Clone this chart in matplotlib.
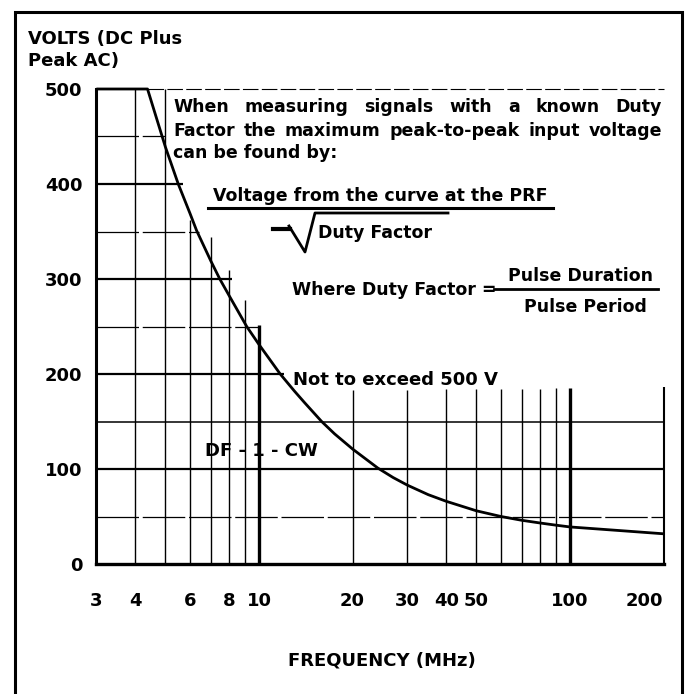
import numpy as np
import matplotlib
matplotlib.use("Agg")
import matplotlib.pyplot as plt
from matplotlib.lines import Line2D
from matplotlib.patches import Rectangle

plt.rcParams['font.family'] = ['DejaVu Sans']
plt.rcParams['font.weight'] = 'bold'

# ── Data ──────────────────────────────────────────────────────────────────────
freq_mhz = [3, 4.38, 5, 5.5, 6, 6.3, 7, 7.48, 8, 9.13, 10, 11.7, 13, 14, 15.9, 17.5, 20, 24.1, 27,
            30, 35, 40, 50, 60, 70, 80, 90, 100, 150, 200]
volts    = [500, 500, 439, 400, 369, 351, 319, 300, 283, 250, 231, 200, 182, 170, 150, 137, 121, 101, 91,
            83, 73, 66, 56, 50, 46, 43.2, 40.9, 39, 34.8, 31.8]

x_ticks = [3, 4, 6, 8, 10, 20, 30, 40, 50, 100, 200]
y_ticks = [0, 100, 200, 300, 400, 500]

# horizontal grid: level and how far right it runs (MHz)
h_levels = [50, 100, 150, 200, 250, 300, 350, 400, 450]
h_ends   = [200, 200, 200, 12, 10, 8.2, 6.4, 5.7, 5.0]

# vertical grid: frequency and how high it runs (V)
v_freqs = [4, 5, 6, 7, 8, 9, 10, 20, 30, 40, 50, 60, 70, 80, 90, 100, 200]
v_tops  = [500, 500, 362, 344, 309, 278, 252, 183, 183, 184, 184, 184, 184, 184, 185, 185, 186]

W, H = 691, 694
def fx(px): return px / W
def fy(py): return 1 - py / H

fig = plt.figure(figsize=(W / 100, H / 100), dpi=100)
ax = fig.add_axes([fx(96.4), fy(564), (663.6 - 96.4) / W, (564 - 89) / H])
ax.set_xscale('log')
ax.set_xlim(3, 200)
ax.set_ylim(0, 500)

# grid
for lvl, end in zip(h_levels, h_ends):
    if lvl % 100 == 0:
        ax.hlines(lvl, 3, end, color='black', lw=1.6, clip_on=False)
    elif lvl == 150:
        ax.hlines(lvl, 3, end, color='black', lw=1.1, clip_on=False)
    else:
        ax.hlines(lvl, 3, end, color='black', lw=0.9, linestyles=(0, (34, 3)), clip_on=False)
ax.hlines(500, freq_mhz[1], 200, color='black', lw=0.8, linestyles=(0, (14, 3)), clip_on=False)
for f, top in zip(v_freqs, v_tops):
    lw = 2.4 if f in (10, 100) else (1.5 if f == 200 else 1.0)
    ax.vlines(f, 0, top, color='black', lw=lw, clip_on=False)

# curve
ax.plot(freq_mhz, volts, color='black', lw=2.0, clip_on=False, solid_capstyle='butt')

for s in ['top', 'right']:
    ax.spines[s].set_visible(False)
ax.spines['left'].set_linewidth(2.2)
ax.spines['bottom'].set_linewidth(2.4)

ax.set_xticks(x_ticks)
ax.set_xticklabels([str(t) for t in x_ticks])
ax.xaxis.set_minor_locator(matplotlib.ticker.NullLocator())
ax.set_yticks(y_ticks)
ax.tick_params(axis='both', length=0, labelsize=13)
ax.tick_params(axis='x', pad=20)
ax.tick_params(axis='y', pad=10)
for lab in ax.get_xticklabels() + ax.get_yticklabels():
    lab.set_fontweight('bold')
ax.get_xticklabels()[-1].set_ha('right')

# axis titles
fig.text(fx(28), fy(39), 'VOLTS (DC Plus', fontsize=13, va='center', ha='left')
fig.text(fx(28), fy(61), 'Peak AC)', fontsize=13, va='center', ha='left')
fig.text(fx(382), fy(661), 'FREQUENCY (MHz)', fontsize=13, va='center', ha='center')

# justified note text
renderer = fig.canvas.get_renderer()
def justified(line, x0, x1, y, size=12.5):
    words = line.split()
    arts = [fig.text(0, fy(y), w, fontsize=size, va='center', ha='left') for w in words]
    widths = [a.get_window_extent(renderer).width for a in arts]
    gap = (x1 - x0 - sum(widths)) / max(len(words) - 1, 1)
    x = x0
    for a, w in zip(arts, widths):
        a.set_x(fx(x))
        x += w + gap

justified('When measuring signals with a known Duty', 173, 662, 107.5)
justified('Factor the maximum peak-to-peak input voltage', 173, 662, 131)
fig.text(fx(173), fy(153), 'can be found by:', fontsize=12.5, va='center', ha='left')

fig.text(fx(213), fy(196), 'Voltage from the curve at the PRF', fontsize=12.5, va='center', ha='left')
fig.add_artist(Line2D([fx(208), fx(553)], [fy(208), fy(208)], color='black', lw=2.2, transform=fig.transFigure))
fig.add_artist(Line2D([fx(273), fx(290)], [fy(229), fy(229)], color='black', lw=3, transform=fig.transFigure))
fig.add_artist(Line2D([fx(289), fx(305), fx(315), fx(448)], [fy(226), fy(252), fy(213), fy(213)],
                      color='black', lw=2, transform=fig.transFigure))
fig.text(fx(318), fy(233), 'Duty Factor', fontsize=12.5, va='center', ha='left')

fig.text(fx(292), fy(290), 'Where Duty Factor =', fontsize=12.5, va='center', ha='left')
fig.text(fx(581), fy(276), 'Pulse Duration', fontsize=12.5, va='center', ha='center')
fig.add_artist(Line2D([fx(494), fx(658)], [fy(289), fy(289)], color='black', lw=2, transform=fig.transFigure))
fig.text(fx(585), fy(307), 'Pulse Period', fontsize=12.5, va='center', ha='center')

fig.text(fx(293), fy(380), 'Not to exceed 500 V', fontsize=13, va='center', ha='left')
fig.text(fx(205), fy(451.5), 'DF - 1 - CW', fontsize=13, va='center', ha='left')

# outer frame
fig.add_artist(Rectangle((fx(15), -0.05), (682 - 15) / W, fy(12) + 0.05, fill=False,
                         lw=2.2, edgecolor='black', transform=fig.transFigure, clip_on=False))

fig.savefig('out.png', dpi=100)
